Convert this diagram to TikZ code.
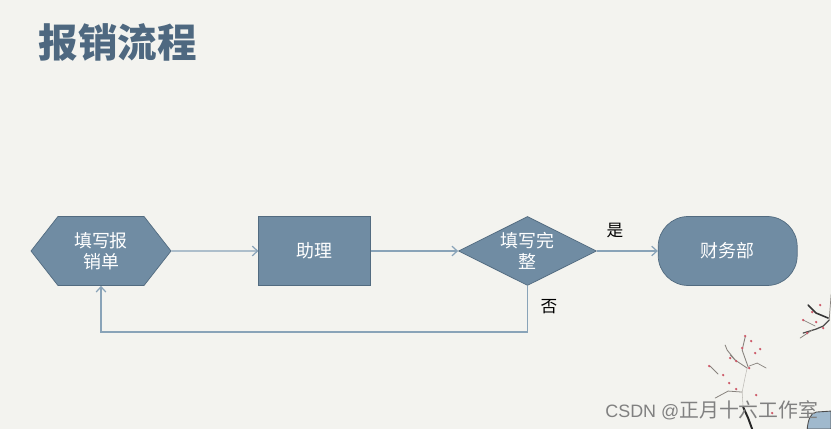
\documentclass[tikz,border=0pt]{standalone}
\usepackage{fontspec}
\setmainfont{Noto Sans CJK SC}
\newfontfamily\latinfont{Liberation Sans}
\usetikzlibrary{positioning,shapes,arrows.meta}
\definecolor{pagebg}{RGB}{243,243,239}
\definecolor{boxblue}{RGB}{112,140,163}
\definecolor{boxedge}{RGB}{82,107,128}
\definecolor{linkblue}{RGB}{137,163,184}
\definecolor{titleblue}{RGB}{78,104,128}
\definecolor{twig}{RGB}{135,130,125}
\definecolor{bud}{RGB}{205,90,105}
\definecolor{potblue}{RGB}{160,185,205}
\tikzset{
  flowbox/.style={draw=boxedge, fill=boxblue, inner sep=0pt, minimum height=1.38cm},
  flowtext/.style={text=white, align=center, inner sep=0pt, font=\fontsize{10.2pt}{12pt}\selectfont},
  link/.style={draw=linkblue, line width=0.7pt, -{Straight Barb[length=3pt,width=5.5pt]}},
  note/.style={font=\fontsize{9.5pt}{11pt}\selectfont, text=black, inner sep=0pt}
}
\begin{document}
\begin{tikzpicture}
  \fill[pagebg] (0,0) rectangle (16.62,8.58);
  \useasboundingbox (0,0) rectangle (16.62,8.58);

  % Title
  \node[anchor=west, inner sep=0pt, text=titleblue, font=\fontsize{22.5pt}{27pt}\selectfont\bfseries] (title) at (0.77,7.72) {报销流程};

  % Flow
  \node[flowbox, flowtext, signal, signal to=west and east, signal pointer angle=104, minimum width=2.8cm] (form) at (2.02,3.56) {填写报\\销单};
  \node[flowbox, flowtext, rectangle, minimum width=2.24cm, right=1.74cm of form] (assistant) {助理};
  \node[flowbox, diamond, aspect=2, minimum width=2.76cm, right=1.74cm of assistant, label={[flowtext]center:填写完\\整}] (check) {};
  \node[flowbox, flowtext, rectangle, rounded corners=0.6cm, minimum width=2.78cm, right=1.22cm of check] (finance) {财务部};

  \draw[link] (form) -- (assistant);
  \draw[link] (assistant) -- (check);
  \draw[link] (check) -- (finance);
  \coordinate (backleft) at (form.south |- 0,1.94);
  \draw[link] (check.south) |- (backleft) -- (form.south);

  \node[note] (yes) at (12.3,3.97) {是};
  \node[note] (no) at (10.98,2.45) {否};

  % Branches, in pixels of the picture
  \begin{scope}[shift={(0,8.58)}, x=0.02cm, y=-0.02cm, draw=twig, line cap=round]
    \draw[line width=0.3pt, opacity=0.5] (743,408) -- (742,392) -- (745,377) -- (747,368);
    \draw[line width=0.45pt] (742,392) -- (728,391) -- (715,398);
    \draw[line width=0.5pt] (747,368) -- (735,360) -- (727,350) -- (725,345);
    \draw[line width=0.4pt] (735,360) -- (730,355);
    \draw[line width=0.5pt] (748,367) -- (742,350) -- (745,337);
    \draw[line width=0.4pt] (749,366) -- (757,363) -- (766,368);
    \draw[line width=0.5pt] (710,366) -- (718,374);
    \draw[line width=1.1pt, black!85] (752,429) -- (748,418) -- (743,407);
    \draw[line width=0.9pt, black!80] (808,305) -- (816,313) -- (828,318);
    \draw[line width=0.7pt, black!70] (803,333) -- (816,329) -- (823,326) -- (829,320);
    \draw[line width=0.4pt] (803,320) -- (815,326);
    \draw[line width=0.4pt] (800,338) -- (812,330);
    \draw[line width=0.4pt] (829,320) -- (831,294);
    \foreach \budx/\budy in {745/336, 751/341, 760/349, 755/353, 742/348, 736/361, 730/358, 749/368, 709/366, 723/375, 729/383, 736/389, 756/395, 772/413, 807/333, 816/322, 820/305, 803/320, 823/328, 812/312} {
      \fill[bud] (\budx,\budy) circle (1.3);
    }
    \draw[fill=potblue, draw=black!70, line width=0.5pt] (807,429) .. controls (808,420) and (810,413) .. (816,412) -- (831,411) -- (831,429) -- cycle;
  \end{scope}

  % Watermark
  \node[anchor=west, inner sep=0pt, text=black!50, font=\fontsize{11.3pt}{14pt}\selectfont] (mark) at (12.1,0.38) {{\latinfont\fontsize{10.2pt}{14pt}\selectfont CSDN @}正月十六工作室};
\end{tikzpicture}
\end{document}
